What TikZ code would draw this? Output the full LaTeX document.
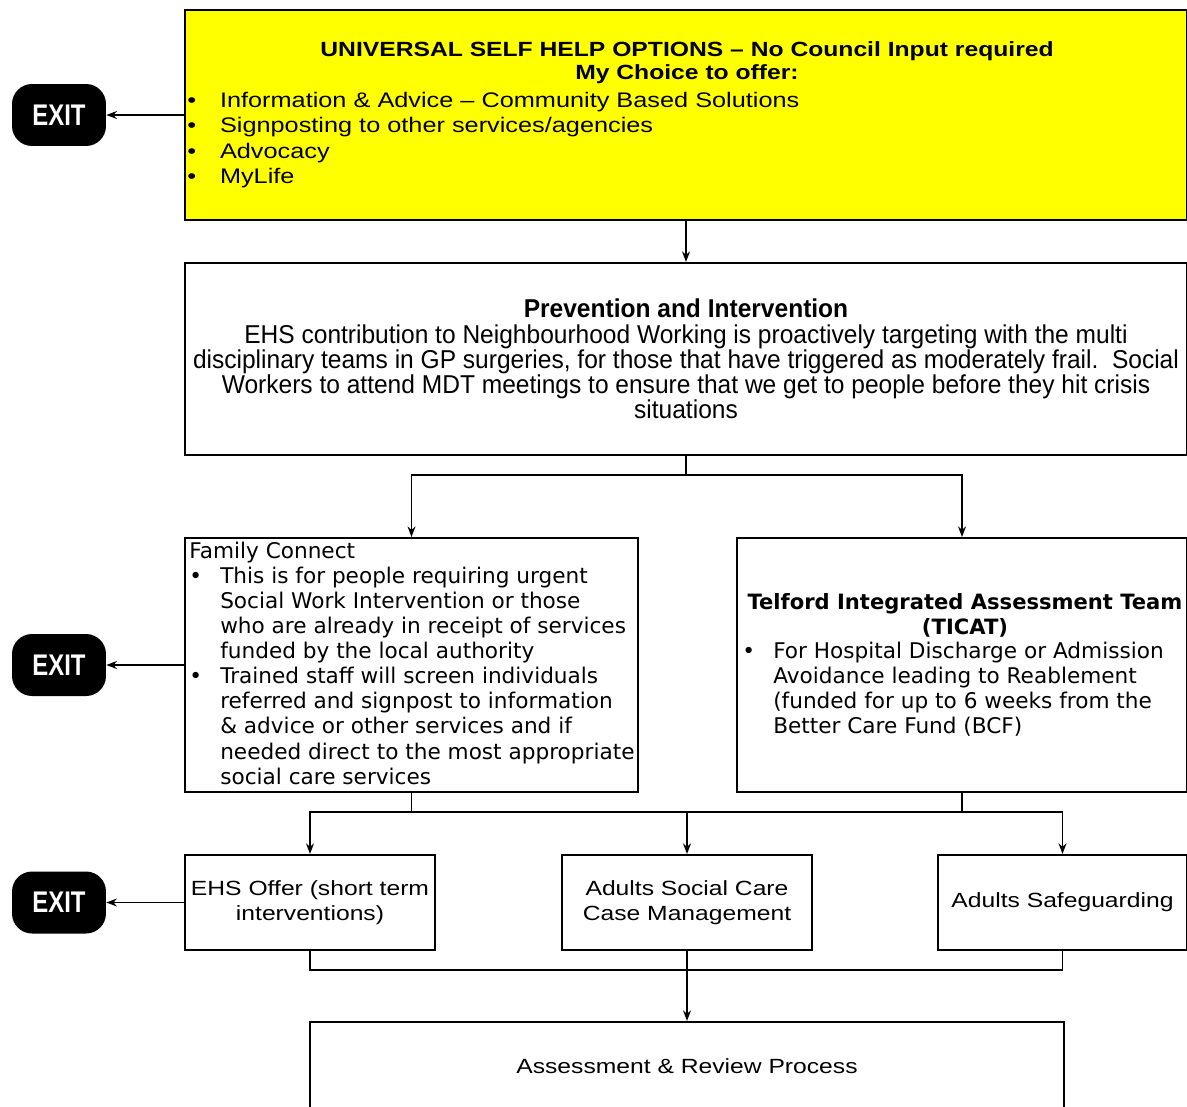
\documentclass[tikz,border=0pt]{standalone}
\usepackage{fontspec}
\setmainfont{Liberation Sans}[FakeStretch=1.2]
\newfontfamily\narrowfont{Liberation Sans}[FakeStretch=0.95]
\newfontfamily\exitfont{Liberation Sans}[FakeStretch=0.8]
\newfontfamily\verdfont{DejaVu Sans}
\usetikzlibrary{arrows.meta}
\definecolor{helpyellow}{RGB}{255,255,0}

\tikzset{
  box/.style={draw, line width=1.2pt, inner sep=0pt},
  exitnode/.style={fill=black, rounded corners=0.4cm, minimum width=1.88cm,
    minimum height=1.24cm, text=white, font=\exitfont\bfseries\fontsize{17}{17}\selectfont},
  smallbox/.style={box, minimum width=5cm, minimum height=1.9cm, align=center,
    font=\fontsize{11.7}{14.2}\selectfont},
  txt/.style={inner sep=0pt},
  conn/.style={line width=1pt},
  arr/.style={conn, -{Stealth[length=6pt,width=4.5pt]}}
}

\begin{document}
\begin{tikzpicture}[x=0.02cm, y=-0.02cm]
\useasboundingbox (0,0) rectangle (1187,1106);
\clip (0,0) rectangle (1187,1106);

% Universal self help box
\node[box, fill=helpyellow, minimum width=20.04cm, minimum height=4.2cm] (usho) at (686,115) {};
\node[txt, anchor=base, font=\bfseries\fontsize{11.7}{13.6}\selectfont] (ushotitle) at (687,56)
  {\begin{tabular}[t]{@{}c@{}}
    UNIVERSAL SELF HELP OPTIONS \textendash{} No Council Input required\\
    My Choice to offer:
  \end{tabular}};
\node[txt, anchor=base west, font=\fontsize{12}{14.6}\selectfont] (usholist) at (187,107)
  {\begin{tabular}[t]{@{}p{18.6pt}@{}l@{}}
    \textbullet & Information \& Advice \textendash{} Community Based Solutions\\
    \textbullet & Signposting to other services/agencies\\
    \textbullet & Advocacy\\
    \textbullet & MyLife
  \end{tabular}};

% Prevention box
\node[box, minimum width=20.04cm, minimum height=3.84cm, align=center,
  font=\narrowfont\fontsize{14.7}{14.3}\selectfont] (prev) at (686,359)
  {{\bfseries Prevention and Intervention}\\
   EHS contribution to Neighbourhood Working is proactively targeting with the multi\\
   disciplinary teams in GP surgeries, for those that have triggered as moderately frail.\ \ Social\\
   Workers to attend MDT meetings to ensure that we get to people before they hit crisis\\
   situations};

% Family Connect box
\node[box, minimum width=9.06cm, minimum height=5.08cm] (fam) at (411.5,665) {};
\node[txt, anchor=base west, font=\verdfont\fontsize{12.3}{14.3}\selectfont] (famtext) at (189,558)
  {\begin{tabular}[t]{@{}p{17.6pt}@{}l@{}}
    \multicolumn{2}{@{}l}{Family Connect}\\
    \textbullet & This is for people requiring urgent\\
                & Social Work Intervention or those\\
                & who are already in receipt of services\\
                & funded by the local authority\\
    \textbullet & Trained staff will screen individuals\\
                & referred and signpost to information\\
                & \& advice or other services and if\\
                & needed direct to the most appropriate\\
                & social care services
  \end{tabular}};

% TICAT box
\node[box, minimum width=9cm, minimum height=5.08cm] (ticat) at (962,665) {};
\node[txt, anchor=base, font=\verdfont\bfseries\fontsize{12}{14.3}\selectfont] (ticattitle) at (965,609)
  {\begin{tabular}[t]{@{}c@{}}
    Telford Integrated Assessment Team\\
    (TICAT)
  \end{tabular}};
\node[txt, anchor=base west, font=\verdfont\fontsize{12.3}{14.3}\selectfont] (ticatlist) at (742,658)
  {\begin{tabular}[t]{@{}p{17.6pt}@{}l@{}}
    \textbullet & For Hospital Discharge or Admission\\
                & Avoidance leading to Reablement\\
                & (funded for up to 6 weeks from the\\
                & Better Care Fund (BCF)
  \end{tabular}};

% Service boxes
\node[smallbox] (ehs) at (310,902.5) {EHS Offer (short term\\interventions)};
\node[smallbox] (asc) at (687,902.5) {Adults Social Care\\Case Management};
\node[smallbox, minimum width=4.98cm] (safe) at (1062.5,902.5) {Adults Safeguarding};
\node[smallbox, minimum width=15.1cm, minimum height=1.76cm] (assess) at (687,1066)
  {Assessment \& Review Process};

% Exit nodes
\node[exitnode] (exit1) at (59,115) {EXIT};
\node[exitnode] (exit2) at (59,665) {EXIT};
\node[exitnode] (exit3) at (59,902.5) {EXIT};

% Connectors
\draw[arr] (usho.west) -- (exit1.east);
\draw[arr] (fam.west) -- (exit2.east);
\draw[arr] (ehs.west) -- (exit3.east);
\draw[arr] (usho.south) -- (prev.north);

\coordinate (split1) at (686,475);
\draw[conn] (prev.south) -- (split1);
\draw[arr] (split1) -| (fam.north);
\draw[arr] (split1) -| (ticat.north);

\coordinate (split2) at (687,812);
\draw[conn] (fam.south) |- (split2);
\draw[conn] (ticat.south) |- (split2);
\draw[arr] (split2) -| (ehs.north);
\draw[arr] (split2) -- (asc.north);
\draw[arr] (split2) -| (safe.north);

\coordinate (join) at (687,970);
\draw[conn] (ehs.south) |- (join);
\draw[conn] (safe.south) |- (join);
\draw[arr] (asc.south) -- (assess.north);

\end{tikzpicture}
\end{document}
